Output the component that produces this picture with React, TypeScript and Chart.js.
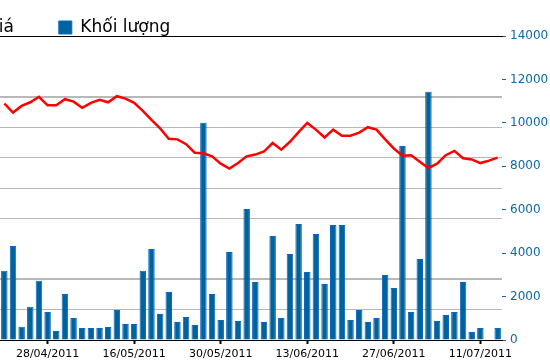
import React, { useEffect, useRef } from "react";
import { Chart, registerables } from "chart.js";

Chart.register(...registerables);

const dates = [
  "21/04/2011", "22/04/2011", "25/04/2011", "26/04/2011", "27/04/2011",
  "28/04/2011", "29/04/2011", "04/05/2011", "05/05/2011", "06/05/2011",
  "09/05/2011", "10/05/2011", "11/05/2011", "12/05/2011", "13/05/2011",
  "16/05/2011", "17/05/2011", "18/05/2011", "19/05/2011", "20/05/2011",
  "23/05/2011", "24/05/2011", "25/05/2011", "26/05/2011", "27/05/2011",
  "30/05/2011", "31/05/2011", "01/06/2011", "02/06/2011", "03/06/2011",
  "06/06/2011", "07/06/2011", "08/06/2011", "09/06/2011", "10/06/2011",
  "13/06/2011", "14/06/2011", "15/06/2011", "16/06/2011", "17/06/2011",
  "20/06/2011", "21/06/2011", "22/06/2011", "23/06/2011", "24/06/2011",
  "27/06/2011", "28/06/2011", "29/06/2011", "30/06/2011", "01/07/2011",
  "04/07/2011", "05/07/2011", "06/07/2011", "07/07/2011", "08/07/2011",
  "11/07/2011", "12/07/2011", "13/07/2011",
];

const prices = [
  38.9, 37.4, 38.5, 39.1, 40.0, 38.6, 38.6, 39.6, 39.2, 38.2,
  39.0, 39.5, 39.1, 40.1, 39.7, 39.0, 37.7, 36.2, 34.8, 33.1,
  33.0, 32.2, 30.8, 30.7, 30.2, 29.0, 28.2, 29.1, 30.2, 30.5,
  31.0, 32.4, 31.3, 32.6, 34.2, 35.7, 34.6, 33.3, 34.6, 33.6,
  33.6, 34.1, 35.0, 34.6, 33.0, 31.5, 30.3, 30.4, 29.3, 28.3,
  29.0, 30.4, 31.1, 29.9, 29.7, 29.1, 29.5, 30.0,
];

const volumes = [
  3190, 4330, 610, 1530, 2730, 1290, 410, 2120, 1010, 550,
  550, 550, 600, 1380, 740, 740, 3190, 4190, 1200, 2210,
  830, 1060, 690, 10000, 2120, 920, 4050, 880, 6030, 2670,
  830, 4790, 1010, 3960, 5340, 3130, 4880, 2580, 5300, 5300,
  920, 1380, 830, 1010, 2990, 2400, 8930, 1290, 3730, 11430,
  880, 1150, 1290, 2670, 370, 550, 0, 550,
];

const seriesNames = ["Giá", "Khối lượng"];
const volumeAxis = { min: 0, max: 14000, step: 2000 };
const priceAxis = { min: 0, max: 50, step: 5 };
// price grid lines that the reference shows (others are absent)
const priceGridShown = [5, 10, 20, 25, 30, 35, 40];
const priceGridBold = [10, 40];

const FONT = "DejaVu Sans";
const AXIS_BLUE = "#0b69a3";
const GRID_GRAY = "#b8b8b8";

const frameTop = {
  id: "frameTop",
  afterDraw(chart: any) {
    const { ctx, chartArea } = chart;
    ctx.save();
    ctx.strokeStyle = "#000000";
    ctx.lineWidth = 1;
    ctx.beginPath();
    const y = Math.round(chartArea.top) + 0.5;
    ctx.moveTo(chartArea.left, y);
    ctx.lineTo(chartArea.right + 1, y);
    ctx.stroke();
    ctx.restore();
  },
};

export default function App() {
  const ref = useRef<HTMLCanvasElement>(null);

  useEffect(() => {
    const canvas = ref.current;
    if (!canvas) return;
    const chart = new Chart(canvas, {
      type: "bar",
      data: {
        labels: dates,
        datasets: [
          {
            type: "line",
            label: seriesNames[0],
            data: prices,
            yAxisID: "yPrice",
            borderColor: "#ff0000",
            backgroundColor: "#ff0000",
            borderWidth: 2.5,
            pointRadius: 0,
            tension: 0,
            order: 0,
          } as any,
          {
            type: "bar",
            label: seriesNames[1],
            data: volumes,
            yAxisID: "yVol",
            backgroundColor: "#00639b",
            borderColor: "#0a66c6",
            borderWidth: 1,
            categoryPercentage: 1,
            barPercentage: 0.75,
            order: 1,
          } as any,
        ],
      },
      plugins: [frameTop],
      options: {
        responsive: false,
        animation: false,
        devicePixelRatio: 1,
        layout: { padding: 0 },
        plugins: {
          legend: {
            display: true,
            position: "top",
            align: "start",
            maxHeight: 62,
            labels: {
              boxWidth: 13,
              boxHeight: 13,
              padding: 45,
              color: "#000",
              font: { family: FONT, size: 17 },
            },
          },
          tooltip: { enabled: false },
        },
        scales: {
          x: {
            offset: true,
            grid: {
              offset: false,
              drawOnChartArea: false,
              drawTicks: true,
              tickLength: 4,
              tickColor: "#000",
              tickWidth: 2,
            },
            border: { display: true, color: "#000", width: 1 },
            ticks: {
              autoSkip: false,
              maxRotation: 0,
              minRotation: 0,
              padding: 4,
              color: "#000",
              font: { family: FONT, size: 11 },
              callback: (_v: any, i: number) => (i % 10 === 5 ? dates[i] : null),
            },
            afterFit: (s: any) => {
              s.height = 24;
            },
          },
          yPrice: {
            position: "left",
            min: priceAxis.min,
            max: priceAxis.max,
            ticks: { stepSize: priceAxis.step, display: false },
            grid: {
              drawTicks: false,
              color: (ctx: any) => {
                const v = ctx.tick ? Math.round(ctx.tick.value) : -1;
                if (v === priceAxis.max) return "#000";
                return priceGridShown.includes(v) ? GRID_GRAY : "rgba(0,0,0,0)";
              },
              lineWidth: (ctx: any) => {
                const v = ctx.tick ? Math.round(ctx.tick.value) : -1;
                return priceGridBold.includes(v) ? 2 : 1;
              },
            },
            border: { display: false },
            afterFit: (s: any) => {
              s.width = 81;
            },
          },
          yVol: {
            position: "right",
            min: volumeAxis.min,
            max: volumeAxis.max,
            ticks: {
              stepSize: volumeAxis.step,
              color: AXIS_BLUE,
              padding: 4,
              font: { family: FONT, size: 12 },
              callback: (v: any) => String(v),
            },
            grid: {
              drawOnChartArea: false,
              tickLength: 4,
              tickColor: AXIS_BLUE,
              tickWidth: 1,
            },
            border: { display: false },
            afterFit: (s: any) => {
              s.width = 67;
            },
          },
        },
      } as any,
    });
    return () => chart.destroy();
  }, []);

  return (
    <div
      style={{
        position: "fixed",
        left: 0,
        top: 0,
        width: 550,
        height: 364,
        overflow: "hidden",
        background: "#fff",
      }}
    >
      <canvas
        ref={ref}
        width={650}
        height={390}
        style={{ position: "absolute", left: -81, top: -26, width: 650, height: 390 }}
      />
    </div>
  );
}
